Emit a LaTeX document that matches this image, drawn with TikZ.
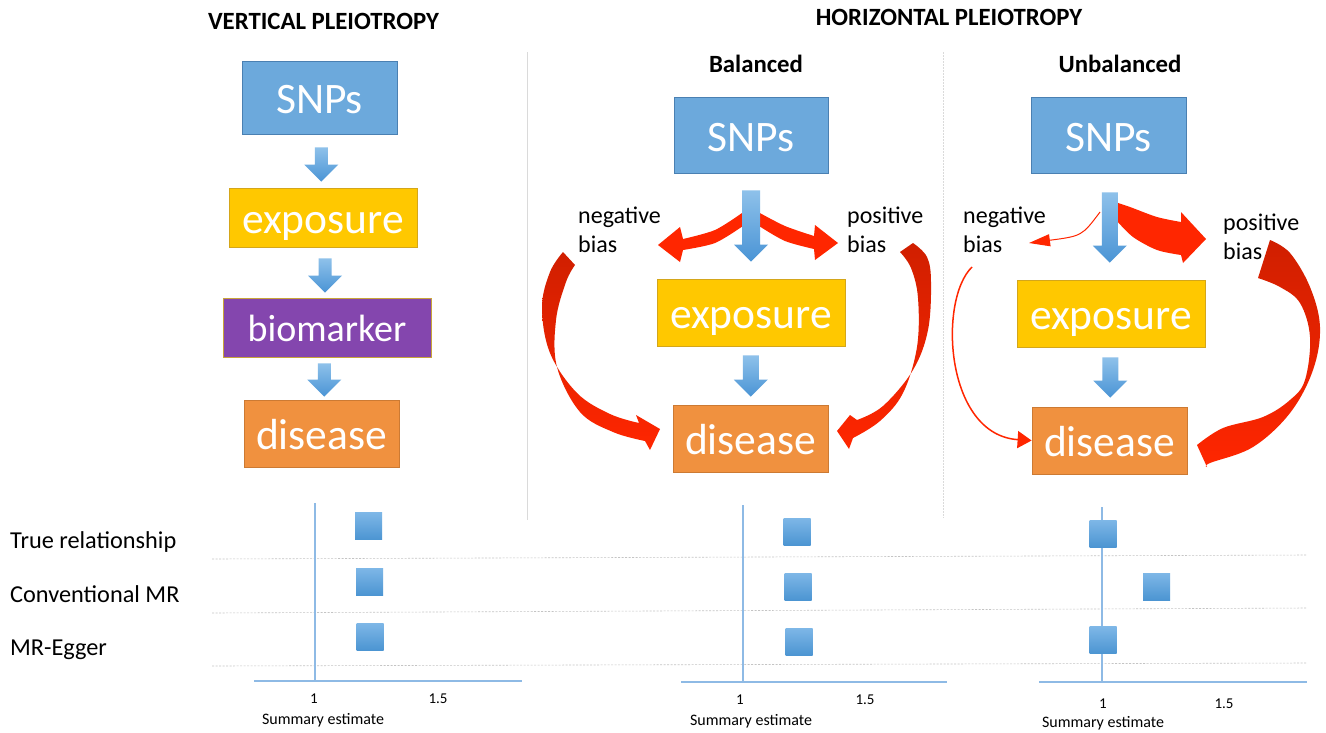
\documentclass[tikz,border=0pt]{standalone}
\usepackage{fontspec}
\setmainfont{Carlito}
\usetikzlibrary{arrows.meta,calc}
\definecolor{snpfill}{HTML}{6CA9DC}
\definecolor{snpline}{HTML}{4A80B2}
\definecolor{expfill}{HTML}{FFC800}
\definecolor{expline}{HTML}{D4A61A}
\definecolor{biofill}{HTML}{8446AE}
\definecolor{bioline}{HTML}{C9A43A}
\definecolor{disfill}{HTML}{F0913F}
\definecolor{disline}{HTML}{CC7A33}
\definecolor{arrtop}{HTML}{8EC1EA}
\definecolor{arrbot}{HTML}{4A94D5}
\definecolor{sqtop}{HTML}{7EB7E7}
\definecolor{sqbot}{HTML}{4C95D2}
\definecolor{axisblue}{HTML}{8EBAE5}
\definecolor{redA}{HTML}{FF2600}
\definecolor{redD}{HTML}{D01F00}
\definecolor{gridgray}{HTML}{C4C4C4}
\definecolor{sepgray}{HTML}{DADADA}
\newcommand\bluedn[6]{%
  \shade[top color=arrtop, bottom color=arrbot]
    let \p1=(#1.south), \p2=(#2.north), \p3=($(\p1)!0.5!(\p2)$) in
    (\x3-#5pt,\y1-#3pt) -- (\x3+#5pt,\y1-#3pt) -- (\x3+#5pt,\y2+#4pt+#6pt)
    -- (\x3+#6pt,\y2+#4pt+#6pt) -- (\x3,\y2+#4pt) -- (\x3-#6pt,\y2+#4pt+#6pt)
    -- (\x3-#5pt,\y2+#4pt+#6pt) -- cycle;}
\tikzset{
  box/.style={rectangle, inner sep=0pt, line width=0.8pt, text=white,
    font=\fontsize{43.5}{44}\selectfont, text height=36pt, text depth=4pt},
  title/.style={font=\bfseries\fontsize{24.8}{26}\selectfont, anchor=base, inner sep=0pt},
  biaslbl/.style={font=\fontsize{24}{26}\selectfont, anchor=base west, inner sep=0pt},
  rowlbl/.style={font=\fontsize{24.3}{26}\selectfont, anchor=base west, inner sep=0pt},
  ticklbl/.style={font=\fontsize{15}{16}\selectfont, anchor=base, inner sep=0pt},
  axlbl/.style={font=\fontsize{16}{17}\selectfont, anchor=base, inner sep=0pt},
  sq/.style={rectangle, minimum size=27pt, inner sep=0pt, top color=sqtop, bottom color=sqbot},
  axisline/.style={axisblue, line width=1.6pt},
  gridline/.style={gridgray, line width=0.6pt, dash pattern=on 2pt off 1.5pt},
  redgrad/.style={top color=redD, bottom color=redA},
}
\begin{document}
\begin{tikzpicture}[x=1pt,y=-1pt]
\useasboundingbox (0,0) rectangle (1326,732);
\fill[white] (0,0) rectangle (1326,732);

% separators
\draw[sepgray, line width=0.8pt] (527,52) -- (527,520);
\draw[sepgray, line width=0.8pt, dash pattern=on 1.5pt off 1.5pt] (943,52) -- (943,518);

% titles
\node[title] (tv) at (323.5,29) {VERTICAL PLEIOTROPY};
\node[title] (th) at (949,25) {HORIZONTAL PLEIOTROPY};
\node[title] (tb) at (756,72) {Balanced};
\node[title] (tu) at (1120,72) {Unbalanced};

% left column boxes
\node[box, fill=snpfill, draw=snpline, minimum width=155pt, minimum height=73pt] (s1) at (319.5,97.5) {SNPs};
\node[box, fill=expfill, draw=expline, minimum width=188pt, minimum height=59pt] (e1) at (323,217.5) {exposure};
\node[box, fill=biofill, draw=bioline, minimum width=208pt, minimum height=59pt,
      font=\fontsize{38}{40}\selectfont, text height=34pt, text depth=6pt] (b1) at (327,327.5) {biomarker};
\node[box, fill=disfill, draw=disline, minimum width=155pt, minimum height=67pt] (d1) at (321.5,433.5) {disease};

% middle column boxes
\node[box, fill=snpfill, draw=snpline, minimum width=154pt, minimum height=76pt] (s2) at (751,135) {SNPs};
\node[box, fill=expfill, draw=expline, minimum width=188pt, minimum height=67pt] (e2) at (751,312.5) {exposure};
\node[box, fill=disfill, draw=disline, minimum width=155pt, minimum height=67pt] (d2) at (750.5,438.5) {disease};

% right column boxes
\node[box, fill=snpfill, draw=snpline, minimum width=155pt, minimum height=76pt] (s3) at (1108.5,135) {SNPs};
\node[box, fill=expfill, draw=expline, minimum width=188pt, minimum height=67pt] (e3) at (1111,313.5) {exposure};
\node[box, fill=disfill, draw=disline, minimum width=155pt, minimum height=67pt] (d3) at (1109.5,440.5) {disease};

% bias labels
\node[biaslbl] (nb2a) at (578,223) {negative};
\node[biaslbl] (nb2b) at (578,252) {bias};
\node[biaslbl] (pb2a) at (847,223) {positive};
\node[biaslbl] (pb2b) at (847,252) {bias};
\node[biaslbl] (nb3a) at (963,223) {negative};
\node[biaslbl] (nb3b) at (963,252) {bias};
\node[biaslbl] (pb3a) at (1223,230) {positive};
\node[biaslbl] (pb3b) at (1223,259) {bias};

% red arrows, balanced
\fill[redA] plot[smooth] coordinates {(742,213) (715,230) (683,239)} -- (680,227) -- (658,245)
  -- (680,262) -- (683,250) -- plot[smooth] coordinates {(683,250) (715,243) (743,226)} -- cycle;
\fill[redA] plot[smooth] coordinates {(758,212) (785,226) (814,236)} -- (815,225) -- (838,243)
  -- (815,260) -- (814,249) -- plot[smooth] coordinates {(814,249) (785,241) (759,226)} -- cycle;
\shade[redgrad] plot[smooth, tension=0.6] coordinates {(563,252) (550,272) (542,307) (550,353) (577,393) (610,414) (639,423)}
  -- (636,415) -- (660,429) -- (650,450) -- (645,441)
  -- plot[smooth, tension=0.6] coordinates {(645,441) (613,432) (580,412) (557,367) (556,320) (566,282) (575,265)} -- cycle;
\shade[redgrad] plot[smooth, tension=0.6] coordinates {(913,243) (927,257) (931,282) (928,330) (913,370) (883,406) (857,420)}
  -- (850,415) -- (837,431) -- (849,449) -- (853,438)
  -- plot[smooth, tension=0.6] coordinates {(853,438) (880,421) (903,393) (917,347) (918,298) (911,268) (900,252)} -- cycle;

% red arrows, unbalanced
\coordinate (nt3) at (1100,212);
\coordinate (nl3) at (972,267);
\draw[redA, line width=1pt, -{Triangle[width=12pt,length=21pt]}] (nt3) .. controls (1082,236) .. (1029,243);
\draw[redA, line width=1.5pt, -{Triangle[width=17pt,length=14pt]}] (nl3) .. controls (938,300) and (945,435) .. (d3.west);
\fill[redA] plot[smooth] coordinates {(1115,202) (1130,207) (1157,217) (1181,222)} -- (1181,212) -- (1206,239)
  -- (1183,263) -- (1181,255) -- plot[smooth] coordinates {(1181,255) (1157,250) (1133,237) (1116,220)} -- cycle;
\shade[redgrad] plot[smooth, tension=0.6] coordinates {(1270,240) (1290,253) (1310,287) (1320,327) (1313,370) (1290,413) (1253,447) (1210,463) (1207,467)}
  -- (1197,445)
  -- plot[smooth, tension=0.6] coordinates {(1197,445) (1223,428) (1263,417) (1290,400) (1305,380) (1310,337) (1300,303) (1280,287) (1258,278)} -- cycle;

% blue block arrows
\bluedn{s1}{e1}{13}{6}{6.5}{17}
\bluedn{e1}{b1}{11}{5}{6.5}{17}
\bluedn{b1}{d1}{6}{3}{6.5}{17}
\bluedn{s2}{e2}{17}{17}{9}{17}
\bluedn{e2}{d2}{9}{8}{8}{17}
\bluedn{s3}{e3}{19}{17}{8}{17}
\bluedn{e3}{d3}{10}{9}{8}{17}

% forest plot rows
\node[rowlbl] (r1) at (10,548) {True relationship};
\node[rowlbl] (r2) at (10,602) {Conventional MR};
\node[rowlbl] (r3) at (10,655) {MR-Egger};
\draw[gridline] (212,559) -- (1307,555);
\draw[gridline] (212,613) -- (1307,608);
\draw[gridline] (212,666) -- (1307,663);

% axes
\draw[axisline] (315,503) -- (315,681);
\draw[axisline] (254,681) -- (522,681);
\draw[axisline] (743,505) -- (743,682);
\draw[axisline] (681,682) -- (947,682);
\draw[axisline] (1102,507) -- (1102,682);
\draw[axisline] (1039,682) -- (1307,682);

% squares
\node[sq] (q11) at (368.5,526) {};
\node[sq] (q12) at (369.5,581.5) {};
\node[sq] (q13) at (370,636.5) {};
\node[sq] (q21) at (797,531.5) {};
\node[sq] (q22) at (798,586.5) {};
\node[sq] (q23) at (799,641.5) {};
\node[sq] (q31) at (1103,533.5) {};
\node[sq] (q32) at (1156.5,586.5) {};
\node[sq] (q33) at (1103,640) {};

% tick labels
\node[ticklbl] (k11) at (314,703) {1};
\node[ticklbl] (k12) at (438,703) {1.5};
\node[axlbl] (a1) at (323,724) {Summary estimate};
\node[ticklbl] (k21) at (740,704) {1};
\node[ticklbl] (k22) at (865,704) {1.5};
\node[axlbl] (a2) at (751,725) {Summary estimate};
\node[ticklbl] (k31) at (1103,708) {1};
\node[ticklbl] (k32) at (1224,708) {1.5};
\node[axlbl] (a3) at (1103,727) {Summary estimate};
\end{tikzpicture}
\end{document}
